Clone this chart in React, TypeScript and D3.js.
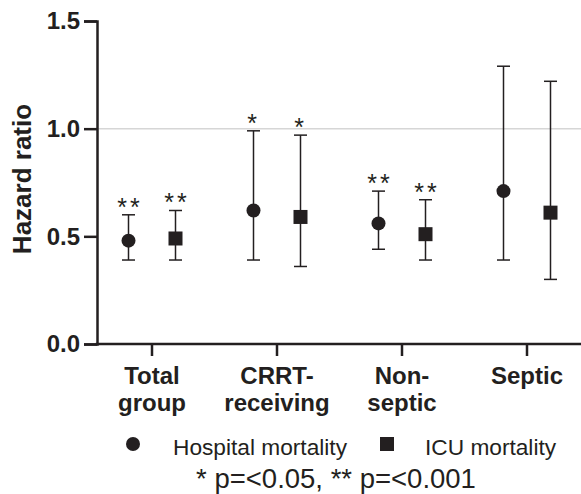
import React, { useEffect, useRef } from 'react';
import * as d3 from 'd3';

// groups on the x axis (line breaks as in the figure)
const groups = ['Total group', 'CRRT-receiving', 'Non-septic', 'Septic'];
const groupLabels = [['Total', 'group'], ['CRRT-', 'receiving'], ['Non-', 'septic'], ['Septic']];
const seriesNames = ['Hospital mortality', 'ICU mortality'];

// hazard ratio, lower and upper 95% CI, significance stars
const hospitalHR = [0.48, 0.62, 0.56, 0.71];
const hospitalLow = [0.39, 0.39, 0.44, 0.39];
const hospitalHigh = [0.6, 0.99, 0.71, 1.29];
const hospitalSig = ['**', '*', '**', ''];

const icuHR = [0.49, 0.59, 0.51, 0.61];
const icuLow = [0.39, 0.36, 0.39, 0.3];
const icuHigh = [0.62, 0.97, 0.67, 1.22];
const icuSig = ['**', '*', '**', ''];

const yTicks = [0, 0.5, 1.0, 1.5];
const footnote = '* p=<0.05, ** p=<0.001';

const INK = '#231f20';
const FONT = '"Liberation Sans", Arial, Helvetica, sans-serif';

const App = () => {
  const svgRef = useRef(null);

  useEffect(() => {
    const svg = d3.select(svgRef.current);
    svg.selectAll('*').remove();
    svg.style('font-family', FONT);

    const axisLeft = 97;
    const axisRight = 590;

    const y = d3.scaleLinear().domain([0, 1.5]).range([344, 21]);
    const x = d3.scaleBand().domain(groups).range([89.5, 589.5]);
    const offset = d3.scalePoint().domain(seriesNames).range([-23.5, 23.5]);
    const cx = (g, s) => x(g) + x.bandwidth() / 2 + offset(s);

    // reference line at HR = 1
    svg.append('line')
      .attr('x1', axisLeft)
      .attr('x2', axisRight)
      .attr('y1', y(1))
      .attr('y2', y(1))
      .attr('stroke', '#d6d6d6')
      .attr('stroke-width', 1.5);

    // Y axis
    const yAxis = svg.append('g')
      .attr('transform', `translate(${axisLeft},0)`)
      .call(d3.axisLeft(y).tickValues(yTicks).tickFormat(d3.format('.1f')).tickSize(13).tickPadding(4));
    yAxis.select('.domain').attr('stroke', INK).attr('stroke-width', 2.5);
    yAxis.selectAll('.tick line').attr('stroke', INK).attr('stroke-width', 2.5);
    yAxis.selectAll('.tick text')
      .attr('fill', INK)
      .attr('font-size', 24)
      .attr('font-weight', 'bold')
      .attr('font-family', FONT);

    svg.append('text')
      .attr('transform', `translate(31,${179}) rotate(-90)`)
      .attr('text-anchor', 'middle')
      .attr('fill', INK)
      .attr('font-size', 26)
      .attr('font-weight', 'bold')
      .text('Hazard ratio');

    // X axis
    svg.append('line')
      .attr('x1', axisLeft - 1.25)
      .attr('x2', axisRight)
      .attr('y1', y(0))
      .attr('y2', y(0))
      .attr('stroke', INK)
      .attr('stroke-width', 2.5);

    groups.forEach((g, i) => {
      const gx = x(g) + x.bandwidth() / 2;
      svg.append('line')
        .attr('x1', gx)
        .attr('x2', gx)
        .attr('y1', y(0))
        .attr('y2', y(0) + 12)
        .attr('stroke', INK)
        .attr('stroke-width', 2.5);
      const t = svg.append('text')
        .attr('text-anchor', 'middle')
        .attr('fill', INK)
        .attr('font-size', 24)
        .attr('font-weight', 'bold');
      groupLabels[i].forEach((line, j) => {
        t.append('tspan').attr('x', gx).attr('y', 384 + j * 27).text(line);
      });
    });

    // error bars, markers and stars
    const series = [
      { name: seriesNames[0], hr: hospitalHR, low: hospitalLow, high: hospitalHigh, sig: hospitalSig, shape: 'circle' },
      { name: seriesNames[1], hr: icuHR, low: icuLow, high: icuHigh, sig: icuSig, shape: 'square' },
    ];
    const capHalf = 6.5;

    series.forEach(s => {
      groups.forEach((g, i) => {
        const px = cx(g, s.name);
        svg.append('line')
          .attr('x1', px).attr('x2', px)
          .attr('y1', y(s.low[i])).attr('y2', y(s.high[i]))
          .attr('stroke', INK).attr('stroke-width', 1.5);
        [s.low[i], s.high[i]].forEach(v => {
          svg.append('line')
            .attr('x1', px - capHalf).attr('x2', px + capHalf)
            .attr('y1', y(v)).attr('y2', y(v))
            .attr('stroke', INK).attr('stroke-width', 1.5);
        });
        if (s.shape === 'circle') {
          svg.append('circle').attr('cx', px).attr('cy', y(s.hr[i])).attr('r', 7).attr('fill', INK);
        } else {
          svg.append('rect').attr('x', px - 7).attr('y', y(s.hr[i]) - 7).attr('width', 14).attr('height', 14).attr('fill', INK);
        }
        if (s.sig[i]) {
          svg.append('text')
            .attr('x', px + (s.sig[i].length > 1 ? 1.5 : 0))
            .attr('y', y(s.high[i]) + 1)
            .attr('text-anchor', 'middle')
            .attr('fill', INK)
            .attr('font-size', 25)
            .attr('letter-spacing', 3)
            .text(s.sig[i]);
        }
      });
    });

    // legend
    svg.append('circle').attr('cx', 133).attr('cy', 444).attr('r', 7).attr('fill', INK);
    svg.append('text')
      .attr('x', 173).attr('y', 455)
      .attr('fill', INK).attr('font-size', 22.7)
      .text(seriesNames[0]);
    svg.append('rect').attr('x', 380).attr('y', 437).attr('width', 14).attr('height', 14).attr('fill', INK);
    svg.append('text')
      .attr('x', 425).attr('y', 455)
      .attr('fill', INK).attr('font-size', 22.7)
      .text(seriesNames[1]);

    svg.append('text')
      .attr('x', 336).attr('y', 488)
      .attr('text-anchor', 'middle')
      .attr('fill', INK).attr('font-size', 27.5)
      .text(footnote);
  }, []);

  return (
    <svg
      ref={svgRef}
      width={581}
      height={494}
      style={{ position: 'absolute', left: 0, top: 0, background: '#fff' }}
    ></svg>
  );
};

export default App;
